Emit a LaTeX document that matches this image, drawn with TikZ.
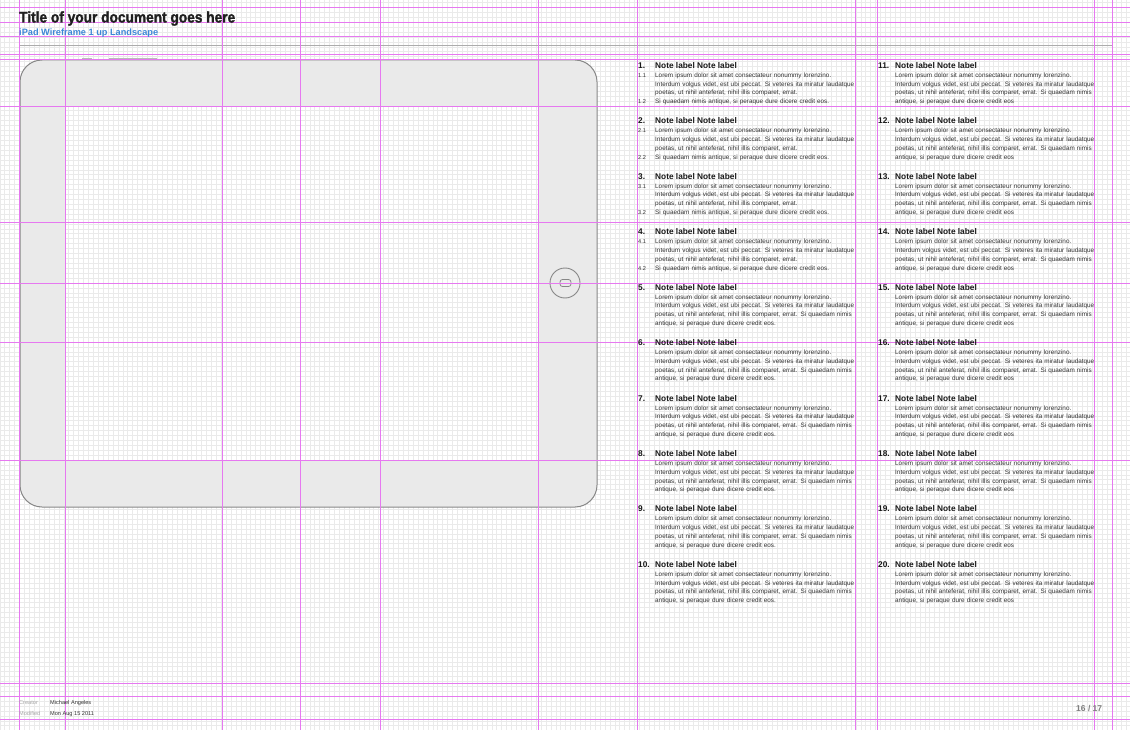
\documentclass[tikz,border=0pt]{standalone}
\usepackage{fontspec}
\setmainfont{Liberation Sans}
\newfontfamily\heavyfont[FakeBold=1.6]{Liberation Sans}
\definecolor{guide}{RGB}{230,120,240}
\definecolor{gridc}{RGB}{234,234,234}
\definecolor{bezel}{RGB}{234,234,234}
\definecolor{outline}{RGB}{135,135,135}
\definecolor{subblue}{RGB}{60,135,215}
\definecolor{bodytext}{RGB}{50,50,50}
\tikzset{
  gridline/.style={draw=gridc, line width=0.5pt},
  guideline/.style={draw=guide, line width=1pt},
  notehead/.style={anchor=base west, inner sep=0pt, font=\fontsize{8.3}{10}\selectfont\bfseries, text=black!90},
  notebody/.style={anchor=base west, inner sep=0pt, text width=230pt, align=left, font=\fontsize{6.35}{8.8}\selectfont, text=bodytext},
  subnum/.style={anchor=base west, inner sep=0pt, font=\fontsize{5.6}{8.8}\selectfont, text=bodytext},
  foot/.style={anchor=base west, inner sep=0pt, font=\fontsize{5.6}{7}\selectfont},
}
\newcommand{\LA}{Lorem ipsum dolor sit amet consectateur nonummy lorenzino.}
\newcommand{\LB}{Interdum volgus videt, est ubi peccat. Si veteres ita miratur laudatque}
\begin{document}
\begin{tikzpicture}[x=1pt,y=-1pt]
\useasboundingbox (0,0) rectangle (1130,730);
\fill[white] (0,0) rectangle (1130,730);
% tablet body
\fill[bezel, rounded corners=22pt] (20,60) rectangle (597,507);
\fill[white] (65,106) rectangle (538,460);
% fine grid
\foreach \k in {-4,...,226} {\draw[gridline] ({19.5+\k*4.92},0) -- ({19.5+\k*4.92},730);}
\foreach \k in {0,...,149} {\draw[gridline] (0,{\k*4.92+2.5}) -- (1130,{\k*4.92+2.5});}
% tablet outline and details
\draw[outline, line width=1pt, rounded corners=22pt] (20,60) rectangle (597,507);
\draw[gray!40, line width=0.4pt] (65,106) rectangle (538,460);
\fill[gray!55] (82,57.8) rectangle (92,60);
\fill[gray!55] (109,57.8) rectangle (157,60);
\fill[gray!65] (18.6,107) rectangle (20.6,131);
\draw[outline, line width=0.9pt] (565,283) circle (15);
\draw[outline, line width=0.8pt, rounded corners=2.5pt] (560,279.5) rectangle (571,286.5);
% header rule
\draw[gray!65, line width=0.8pt] (19,45.5) -- (1112,45.5);
% guides
\foreach \x in {19,65,222,300,380,538,637,855,877,1094,1112} {\draw[guideline] (\x+0.5,0) -- (\x+0.5,730);}
\foreach \y in {7,22,36,54,59,106,222,283,342,460,683,696,719} {\draw[guideline] (0,\y+0.5) -- (1130,\y+0.5);}
% header
\node[anchor=base west, inner sep=0pt, text=black!88] (title) at (19,22.5) {\scalebox{0.89}[1]{\fontsize{15.4}{18}\heavyfont\bfseries Title of your document goes here}};
\node[anchor=base west, inner sep=0pt, text=subblue, font=\fontsize{9.2}{11}\selectfont\bfseries] (subtitle) at (19,35.5) {iPad Wireframe 1 up Landscape};
% notes column 1, items 1-4
\foreach \i in {1,...,4} {
  \pgfmathsetmacro{\yh}{68.3+(\i-1)*55.45}
  \node[notehead] (num\i) at (638,\yh) {\i.};
  \node[notehead] (head\i) at (655,\yh) {Note label Note label};
  \node[notebody] (body\i) at (655,\yh+9) {\LA\\ \LB\\ poetas, ut nihil anteferat, nihil illis comparet, errat.\\ Si quaedam nimis antique, si peraque dure dicere credit eos.};
  \node[subnum] (suba\i) at (638,\yh+9) {\i.1};
  \node[subnum] (subb\i) at (638,\yh+35.4) {\i.2};
}
% notes column 1, items 5-10
\foreach \i in {5,...,10} {
  \pgfmathsetmacro{\yh}{68.3+(\i-1)*55.45}
  \node[notehead] (num\i) at (638,\yh) {\i.};
  \node[notehead] (head\i) at (655,\yh) {Note label Note label};
  \node[notebody] (body\i) at (655,\yh+9) {\LA\\ \LB\\ poetas, ut nihil anteferat, nihil illis comparet, errat. Si quaedam nimis\\ antique, si peraque dure dicere credit eos.};
}
% notes column 2, items 11-20
\foreach \i in {11,...,20} {
  \pgfmathsetmacro{\yh}{68.3+(\i-11)*55.45}
  \node[notehead] (num\i) at (878,\yh) {\i.};
  \node[notehead] (head\i) at (895,\yh) {Note label Note label};
  \node[notebody] (body\i) at (895,\yh+9) {\LA\\ \LB\\ poetas, ut nihil anteferat, nihil illis comparet, errat. Si quaedam nimis\\ antique, si peraque dure dicere credit eos};
}
% footer
\node[foot, text=black!35] (creatorlbl) at (19,704) {Creator};
\node[foot, text=black!80] (creator) at (50,704) {Michael Angeles};
\node[foot, text=black!35] (modlbl) at (19,715.5) {Modified};
\node[foot, text=black!80] (modified) at (50,715.5) {Mon Aug 15 2011};
\node[anchor=base west, inner sep=0pt, text=black!50, font=\fontsize{8.5}{10}\selectfont\bfseries] (page) at (1076,711) {16 / 17};
\end{tikzpicture}
\end{document}
